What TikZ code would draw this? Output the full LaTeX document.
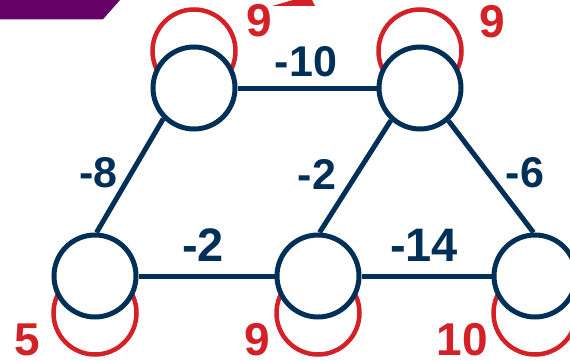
\documentclass[tikz,border=0pt]{standalone}
\usepackage{fontspec}
\setmainfont{Liberation Sans}
\usepackage{tikz}
\usetikzlibrary{arrows.meta,positioning,calc}
\definecolor{navyline}{RGB}{0,48,87}
\definecolor{loopred}{RGB}{212,32,39}
\definecolor{slidepurple}{RGB}{102,0,102}

\begin{document}
\begin{tikzpicture}[x=1pt,y=-1pt,
    vtx/.style={circle,draw=navyline,line width=5pt,fill=white,minimum size=82pt,inner sep=0pt},
    edge/.style={draw=navyline,line width=5pt},
    loopline/.style={draw=loopred,line width=4.5pt},
    wt/.style={text=navyline,font=\fontsize{43}{43}\selectfont\bfseries,inner sep=0pt},
    wtbig/.style={wt,font=\fontsize{47}{47}\selectfont\bfseries},
    lp/.style={text=loopred,font=\fontsize{46}{46}\selectfont\bfseries,inner sep=0pt}]
    \useasboundingbox (0,0) rectangle (570,361);
    \clip (0,0) rectangle (570,361);
    % slide decorations
    \fill[slidepurple] (0,0) -- (120,0) -- (103,19.3) -- (0,19.3) -- cycle;
    \fill[loopred] (272,6) -- (315,6) -- (312,0) -- (293,0) -- cycle;
    % self loops
    \coordinate (pA) at (194,88);
    \coordinate (pB) at (420,88);
    \coordinate (pC) at (95,276);
    \coordinate (pD) at (318,276);
    \coordinate (pE) at (535,276);
    \draw[loopline] ([yshift=37pt]pA) circle[radius=41.5pt];
    \draw[loopline] ([yshift=37pt]pB) circle[radius=41.5pt];
    \draw[loopline] ([yshift=-37pt]pC) circle[radius=41.5pt];
    \draw[loopline] ([yshift=-37pt]pD) circle[radius=41.5pt];
    \draw[loopline] ([yshift=-37pt]pE) circle[radius=41.5pt];
    % vertices
    \node[vtx] (A) at (pA) {};
    \node[vtx] (B) at (pB) {};
    \node[vtx] (C) at (pC) {};
    \node[vtx] (D) at (pD) {};
    \node[vtx] (E) at (pE) {};
    % edges
    \draw[edge] (A.east) -- (B.west);
    \draw[edge] (A.225) -- (C.88);
    \draw[edge] (B.228) -- (D.88);
    \draw[edge] (B.311) -- (E.92);
    \draw[edge] (C.east) -- (D.west);
    \draw[edge] (D.east) -- (E.west);
    % weights
    \node[wt] (wAB) at (306,62) {-10};
    \node[wt] (wAC) at (98.5,173) {-8};
    \node[wt] (wBD) at (317,174) {-2};
    \node[wt] (wBE) at (525,173) {-6};
    \node[wtbig] (wCD) at (203,245.5) {-2};
    \node[wtbig] (wDE) at (424,245.5) {-14};
    % loop weights
    \node[lp] (lA) at (259,21) {9};
    \node[lp] (lB) at (492,21.5) {9};
    \node[lp] (lC) at (27.5,340) {5};
    \node[lp] (lD) at (257.5,340) {9};
    \node[lp] (lE) at (462.5,340) {10};
\end{tikzpicture}
\end{document}
